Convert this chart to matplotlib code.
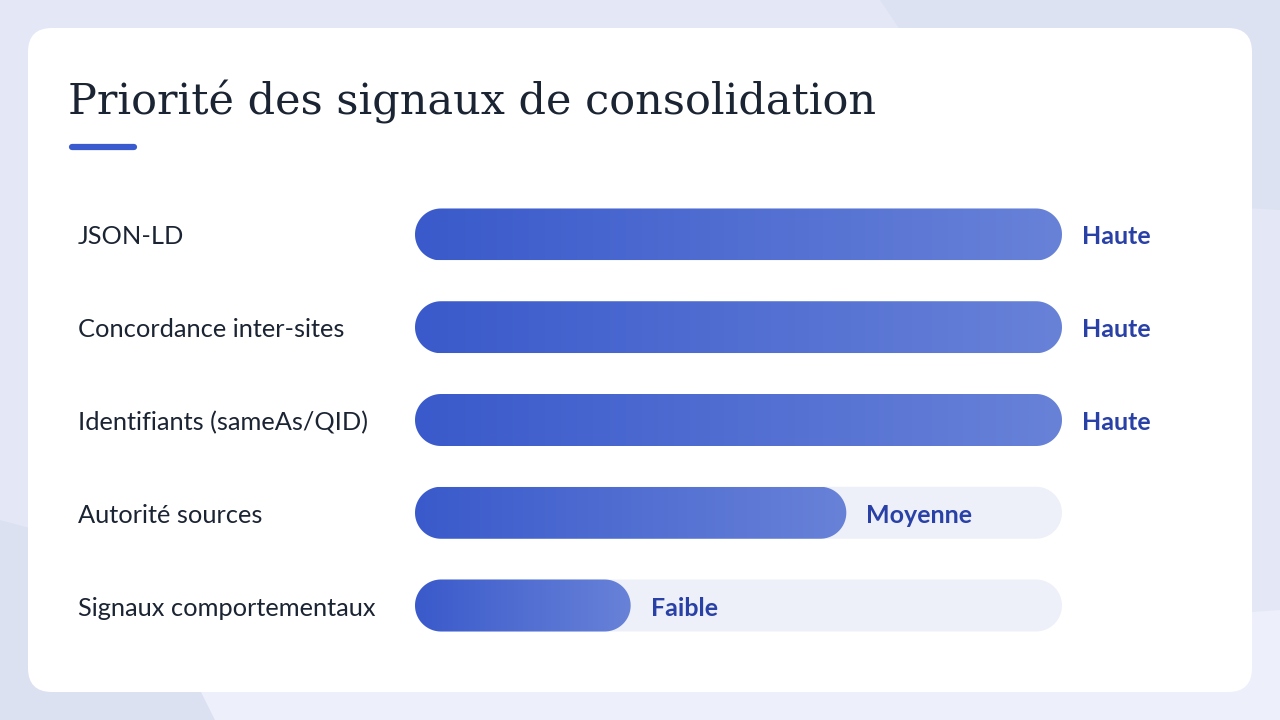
import numpy as np
import matplotlib
matplotlib.use("Agg")
import matplotlib.pyplot as plt
from matplotlib.patches import FancyBboxPatch, Polygon
from matplotlib.colors import LinearSegmentedColormap
import matplotlib.transforms as mtransforms

# data
title = "Priorité des signaux de consolidation"
signals = ["JSON-LD", "Concordance inter-sites", "Identifiants (sameAs/QID)",
           "Autorité sources", "Signaux comportementaux"]
scores = [3, 3, 3, 2, 1]
levels = ["Haute", "Haute", "Haute", "Moyenne", "Faible"]
max_score = 3

W, H = 1280, 720
fig = plt.figure(figsize=(W / 100, H / 100), dpi=100)
fig.patch.set_facecolor("#e4e8f6")

# background + card, in pixel coordinates
bg = fig.add_axes([0, 0, 1, 1])
bg.set_xlim(0, W)
bg.set_ylim(H, 0)
bg.axis("off")

bg.add_patch(Polygon([[880, 0], [1280, 0], [1280, 210], [1100, 200], [960, 120]],
                     closed=True, fc="#dde2f3", ec="none", zorder=0))
bg.add_patch(Polygon([[0, 520], [150, 560], [215, 720], [0, 720]],
                     closed=True, fc="#dce1f2", ec="none", zorder=0))
bg.add_patch(Polygon([[215, 720], [200, 690], [1280, 610], [1280, 720]],
                     closed=True, fc="#edf0fa", ec="none", zorder=0))

card = FancyBboxPatch((28, 28), 1224, 664, boxstyle="round,pad=0,rounding_size=24",
                      fc="white", ec="none", zorder=1)
bg.add_patch(card)

bg.text(68, 114, title, fontsize=31, family="DejaVu Serif", color="#1b2433",
        ha="left", va="baseline", zorder=2)
bg.plot([72, 134], [147, 147], color="#3a5bd0", lw=4.5, solid_capstyle="round", zorder=2)

# bars axes: track spans x 415..1062 px, rows centred at 234..605 px
x0, x1 = 415, 1062
row_gap = 92.75
top_c = 234.5
n = len(signals)
ax_top = top_c - row_gap / 2
ax_h = row_gap * n
ax = fig.add_axes([x0 / W, 1 - (ax_top + ax_h) / H, (x1 - x0) / W, ax_h / H])
ax.set_xlim(0, max_score)
ax.set_ylim(n - 0.5, -0.5)
ax.axis("off")
ax.patch.set_alpha(0)

px_per_x = (x1 - x0) / max_score
bar_h = 52 / row_gap
ry = bar_h / 2
rx = 26 / px_per_x


def capsule(xa, xb, yc, **kw):
    # rounded-end bar, ends are circles in screen space
    t1 = np.linspace(np.pi / 2, 3 * np.pi / 2, 40)
    t2 = np.linspace(-np.pi / 2, np.pi / 2, 40)
    left = np.column_stack([xa + rx + rx * np.cos(t1), yc - ry * np.sin(t1)])
    right = np.column_stack([xb - rx + rx * np.cos(t2), yc - ry * np.sin(t2)])
    return Polygon(np.vstack([left, right]), closed=True, **kw)


cmap = LinearSegmentedColormap.from_list("g", ["#3a5acb", "#6882d8"])
grad = np.linspace(0, 1, 256).reshape(1, -1)
trans = mtransforms.blended_transform_factory(fig.transFigure, ax.transData)
base_off = 10 / row_gap

for i, (lab, v, lev) in enumerate(zip(signals, scores, levels)):
    ax.add_patch(capsule(0, max_score, i, fc="#edf0f9", ec="none", zorder=1))
    fill = capsule(0, v, i, fc="none", ec="none", zorder=2)
    ax.add_patch(fill)
    im = ax.imshow(grad, cmap=cmap, aspect="auto", extent=(0, v, i + ry, i - ry),
                   zorder=2, interpolation="bilinear")
    im.set_clip_path(fill)
    ax.text(v + 20 / px_per_x, i + base_off, lev, ha="left", va="baseline",
            fontsize=18, fontweight="bold", family="Lato", color="#2941a6", zorder=3)
    ax.text(78 / W, i + base_off, lab, transform=trans, ha="left", va="baseline",
            fontsize=18.3, family="Lato", color="#1b2433", clip_on=False)

ax.set_xlim(0, max_score)
ax.set_ylim(n - 0.5, -0.5)

fig.savefig("out.png", dpi=100, facecolor=fig.get_facecolor())
